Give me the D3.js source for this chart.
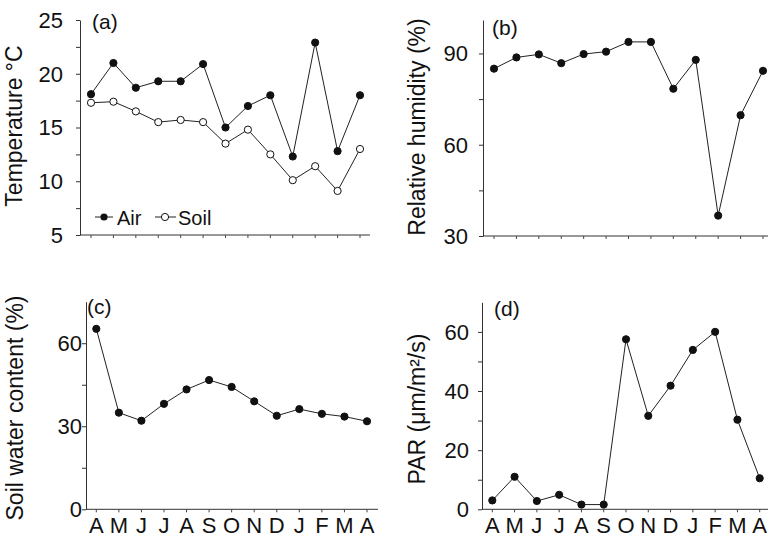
<!DOCTYPE html>
<html>
<head>
<meta charset="utf-8">
<script src="https://cdn.jsdelivr.net/npm/d3@7"></script>
<style>
  body { margin: 0; background: #fff; }
  svg { font-family: "Liberation Sans", Arial, Helvetica, sans-serif; }
  .axis path, .axis line { stroke: #333; stroke-width: 1; }
  .axis text { fill: #111; }
</style>
</head>
<body>
<svg id="chart" width="768" height="538"></svg>
<script>
// months, April to April
var months = ["A","M","J","J","A","S","O","N","D","J","F","M","A"];

var airTemp  = [18.1, 21.0, 18.7, 19.3, 19.3, 20.9, 15.0, 17.0, 18.0, 12.3, 22.9, 12.8, 18.0];
var soilTemp = [17.3, 17.4, 16.5, 15.5, 15.7, 15.5, 13.5, 14.8, 12.5, 10.1, 11.4,  9.1, 13.0];
var humidity = [85.0, 88.7, 89.7, 86.8, 89.8, 90.6, 93.8, 93.8, 78.4, 87.9, 36.7, 69.7, 84.3];
var soilWater = [65.2, 34.9, 32.0, 38.1, 43.3, 46.7, 44.2, 39.0, 33.8, 36.2, 34.5, 33.5, 31.8];
var par = [3.0, 11.0, 2.8, 4.9, 1.6, 1.6, 57.5, 31.6, 41.8, 53.9, 60.0, 30.3, 10.5];

var tempTicks = [5, 10, 15, 20, 25];
var rhTicks = [30, 60, 90];
var swcTicks = [0, 30, 60];
var parTicks = [0, 20, 40, 60];

var svg = d3.select("#chart");

// one panel: frame, axes, title, label
function panel(o) {
  var g = svg.append("g");
  var x = d3.scaleLinear().domain([0, 12]).range(o.xr);
  var y = d3.scaleLinear().domain(o.yd).range(o.yr);

  // y axis: minor ticks + labelled ticks
  var ya = d3.axisLeft(y).tickValues(o.minor).tickSize(4).tickSizeOuter(0).tickFormat("");
  g.append("g").attr("class", "axis")
    .attr("transform", "translate(" + o.ax + ",0)")
    .call(ya);
  g.selectAll(".ylab").data(o.ticks).enter().append("text")
    .attr("x", o.ax - o.labGap)
    .attr("y", function(d){ return y(d); })
    .attr("dy", "0.36em")
    .attr("text-anchor", "end")
    .style("font-size", "22px").style("fill", "#111")
    .text(function(d){ return d; });

  // x axis line with small ticks
  g.append("line")
    .attr("x1", o.ax).attr("x2", o.xEnd)
    .attr("y1", o.yr[0]).attr("y2", o.yr[0])
    .attr("stroke", "#333");
  g.selectAll(".xt").data(d3.range(13)).enter().append("line")
    .attr("x1", function(i){ return x(i); }).attr("x2", function(i){ return x(i); })
    .attr("y1", o.yr[0]).attr("y2", o.yr[0] + 3)
    .attr("stroke", "#444");

  if (o.months) {
    g.selectAll(".mon").data(months).enter().append("text")
      .attr("x", function(d, i){ return x(i); })
      .attr("y", 533)
      .attr("text-anchor", "middle")
      .style("font-size", "22px").style("fill", "#111")
      .text(function(d){ return d; });
  }

  g.append("text")
    .attr("transform", "translate(" + o.tx + "," + o.ty + ") rotate(-90)")
    .attr("text-anchor", "middle")
    .style("font-size", "23px").style("fill", "#111")
    .text(o.title);

  g.append("text")
    .attr("x", o.lx).attr("y", o.ly)
    .style("font-size", "21px").style("fill", "#111")
    .text(o.label);

  return {g: g, x: x, y: y};
}

function series(p, vals, open) {
  var line = d3.line().x(function(d, i){ return p.x(i); }).y(function(d){ return p.y(d); });
  p.g.append("path").datum(vals)
    .attr("d", line).attr("fill", "none")
    .attr("stroke", "#222").attr("stroke-width", 1);
  p.g.selectAll(null).data(vals).enter().append("circle")
    .attr("cx", function(d, i){ return p.x(i); })
    .attr("cy", function(d){ return p.y(d); })
    .attr("r", 3.6)
    .attr("fill", open ? "#fff" : "#111")
    .attr("stroke", "#111").attr("stroke-width", 1);
}

// (a) temperature
var pa = panel({xr: [91, 360], ax: 80, xEnd: 370, yd: [5, 25], yr: [235, 20],
  minor: d3.range(5, 25.1, 2.5), ticks: tempTicks, labGap: 17,
  title: "Temperature \u00B0C", tx: 22, ty: 126, label: "(a)", lx: 92, ly: 29});
series(pa, airTemp, false);
series(pa, soilTemp, true);

// legend
var lg = pa.g.append("g");
lg.append("line").attr("x1", 95).attr("x2", 113).attr("y1", 217).attr("y2", 217).attr("stroke", "#222");
lg.append("circle").attr("cx", 104).attr("cy", 217).attr("r", 3.6).attr("fill", "#111");
lg.append("text").attr("x", 117).attr("y", 225).style("font-size", "20px").style("fill", "#111").text("Air");
lg.append("line").attr("x1", 155).attr("x2", 176).attr("y1", 217).attr("y2", 217).attr("stroke", "#222");
lg.append("circle").attr("cx", 165).attr("cy", 217).attr("r", 3.6).attr("fill", "#fff").attr("stroke", "#111");
lg.append("text").attr("x", 178).attr("y", 225).style("font-size", "20px").style("fill", "#111").text("Soil");

// (b) relative humidity
var pb = panel({xr: [494, 763], ax: 483, xEnd: 770, yd: [30, 101], yr: [236, 20],
  minor: [30, 45, 60, 75, 90], ticks: rhTicks, labGap: 15,
  title: "Relative humidity (%)", tx: 425, ty: 127, label: "(b)", lx: 492, ly: 35});
series(pb, humidity, false);

// (c) soil water content
var pc = panel({xr: [96.3, 367], ax: 86, xEnd: 378, yd: [0, 75], yr: [509.3, 301.7],
  minor: [0, 15, 30, 45, 60], ticks: swcTicks, labGap: 4, months: true,
  title: "Soil water content (%)", tx: 23, ty: 408, label: "(c)", lx: 87, ly: 314});
series(pc, soilWater, false);

// (d) PAR
var pd = panel({xr: [492.3, 759.7], ax: 482, xEnd: 770, yd: [0, 70], yr: [509.3, 302.3],
  minor: [0, 10, 20, 30, 40, 50, 60], ticks: parTicks, labGap: 13, months: true,
  title: "PAR (\u03BCm/m\u00B2/s)", tx: 425, ty: 409, label: "(d)", lx: 494, ly: 316});
series(pd, par, false);
</script>
</body>
</html>
